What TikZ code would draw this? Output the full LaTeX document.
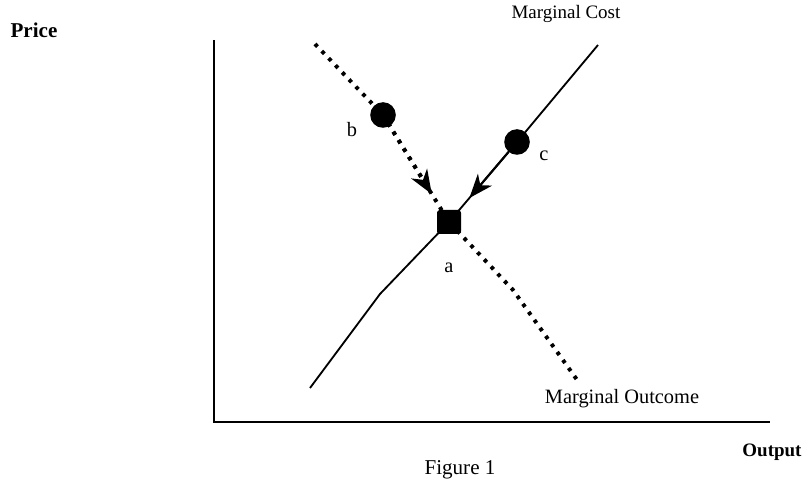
\documentclass[tikz,border=0pt]{standalone}
\usepackage{fontspec}
\setmainfont{Liberation Serif}
\usepackage{tikz}
\usetikzlibrary{arrows.meta, positioning, calc}
\tikzset{
	axis/.style    ={line width=2pt},
	mccurve/.style ={line width=1.3pt},
	mocurve/.style ={line width=2.8pt, dash pattern=on 2.6pt off 4.4pt},
	pt/.style      ={circle, fill=black, minimum size=0.64cm, inner sep=0pt},
	eqpt/.style    ={rectangle, rounded corners=2pt, fill=black, minimum size=0.6cm, inner sep=0pt},
	adjarrow/.style={-{Stealth[length=6mm, width=4.6mm, inset=1.8mm]}, line width=1.5pt},
	lbl/.style     ={font=\fontsize{14.5}{17}\selectfont},
}
\begin{document}
\begin{tikzpicture}
	\useasboundingbox (0,0) rectangle (20.125,12.15);
	% axes
	\coordinate (o) at (5.35,1.6);
	\coordinate (ytop) at (5.35,11.15);
	\coordinate (xend) at (19.25,1.6);
	\draw[axis] (ytop) -- (o) -- (xend);
	\node[font=\bfseries\fontsize{15}{17}\selectfont] (price) at (0.85,11.4) {Price};
	\node[font=\bfseries\fontsize{13.5}{16}\selectfont] (output) at (19.3,0.85) {Output};
	\node[font=\fontsize{15}{18}\selectfont] (fig) at (11.5,0.4) {Figure 1};
	% points
	\node[eqpt] (a) at (11.225,6.6) {};
	\node[pt] (b) at (9.575,9.275) {};
	\node[pt] (c) at (12.925,8.6) {};
	\node[lbl] (alab) at (11.225,5.45) {a};
	\node[lbl] (blab) at (8.8,8.9) {b};
	\node[lbl] (clab) at (13.6,8.25) {c};
	% marginal cost (solid)
	\coordinate (mcbot) at (7.75,2.45);
	\coordinate (mcbend) at (9.5,4.8);
	\coordinate (mctop) at (14.95,11.025);
	\draw[mccurve] (mcbot) -- (mcbend) -- (a.center) -- (c.center) -- (mctop);
	\node[lbl, font=\fontsize{13.5}{16}\selectfont] (mclab) at (14.15,11.8) {Marginal Cost};
	% marginal outcome (dotted)
	\coordinate (motop) at (7.875,11.05);
	\coordinate (mobend) at (12.825,4.9);
	\coordinate (mobot) at (14.5,2.55);
	\draw[mocurve] (motop) -- (b.center);
	\draw[mocurve] (b.center) -- (a.center) -- (mobend) -- (mobot);
	\node[lbl] (molab) at (15.55,2.175) {Marginal Outcome};
	% adjustment towards a
	\coordinate (btip) at ($(b)!0.74!(a)$);
	\coordinate (ctip) at ($(c)!0.7!(a)$);
	\draw[adjarrow, mocurve] (b.center) -- (btip);
	\draw[adjarrow] (c) -- (ctip);
\end{tikzpicture}
\end{document}
